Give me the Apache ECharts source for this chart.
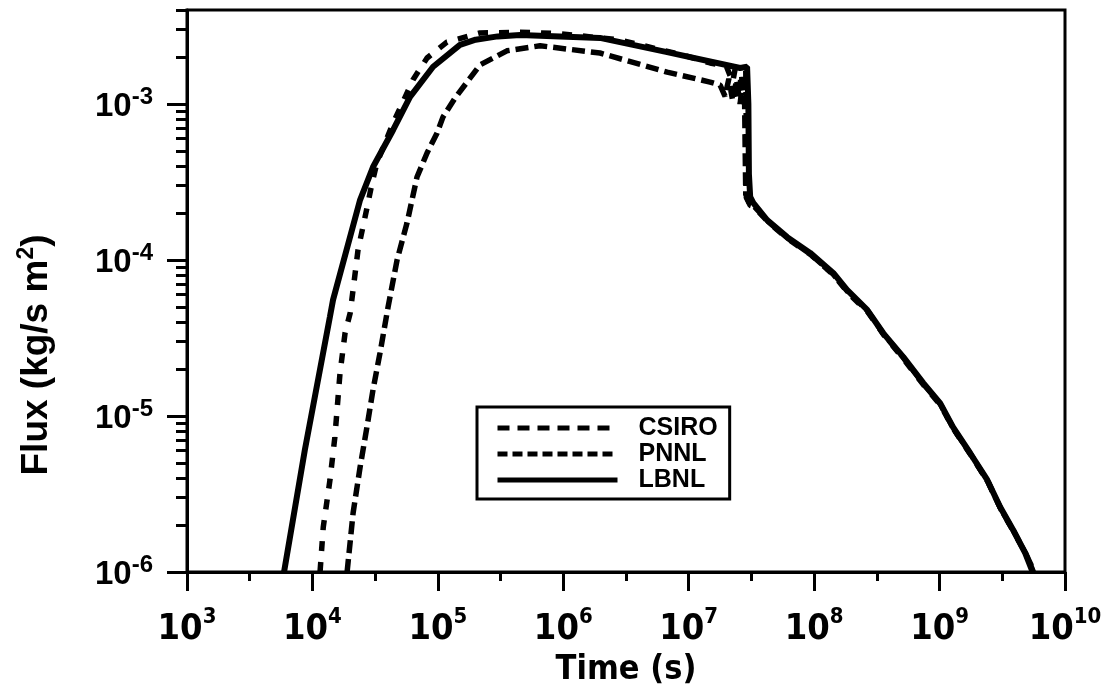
<!DOCTYPE html>
<html><head><meta charset="utf-8">
<script src="https://cdn.jsdelivr.net/npm/echarts@6/dist/echarts.min.js"></script>
<style>html,body{margin:0;padding:0;background:#fff}#c{width:1104px;height:686px}</style>
</head><body><div id="c"></div>
<script>
const FONT = '"Liberation Sans", Arial, Helvetica, sans-serif';
const NARROW = '"Liberation Sans Narrow", "Arial Narrow", "DejaVu Sans Condensed", "Liberation Sans", sans-serif';

const seriesNames = ['CSIRO', 'PNNL', 'LBNL'];
const xMin = 1e3, xMax = 1e10;
const yMin = 1e-6, yMax = 4e-3;
const xMinorTicksLog = [3.5, 4.5, 5.5, 6.5, 7.5, 8.5, 9.5];
const yMantissas = [2, 3, 4, 5, 6, 7, 8, 9];
const yDecades = [-6, -5, -4, -3];

const csiroTime = [1.15e4, 1.22e4, 1.38e4, 1.51e4, 1.66e4, 1.82e4, 2.0e4, 2.31e4, 2.72e4, 2.99e4, 3.27e4, 4.4e4, 5.27e4, 6.34e4, 8.2e4, 1.18e5, 2.17e5, 4.52e5, 9.42e5, 2.84e6, 4.09e6, 9.02e6, 1.48e7,
  2.0e7, 2.24e7, 2.34e7, 2.51e7, 2.63e7, 2.75e7, 2.85e7, 2.88e7, 2.85e7, 2.88e7, 3.09e7,
  3.3e7, 4.3e7, 6.2e7, 9.4e7, 1.43e8, 1.85e8, 2.7e8, 3.6e8, 5.2e8, 7.5e8, 1.02e9, 1.3e9, 1.78e9, 2.45e9, 3.1e9, 3.95e9, 4.95e9, 5.7e9];
const csiroFlux = [1.0e-6, 1.94e-6, 3.89e-6, 7.33e-6, 1.89e-5, 3.4e-5, 4.57e-5, 1.16e-4, 2.15e-4, 3.12e-4, 4.19e-4, 7.55e-4, 1.03e-3, 1.43e-3, 1.97e-3, 2.49e-3, 2.85e-3, 2.88e-3, 2.82e-3, 2.57e-3, 2.39e-3, 2.06e-3, 1.83e-3,
  1.74e-3, 1.38e-3, 1.66e-3, 1.12e-3, 1.58e-3, 1.0e-3, 1.66e-3, 6.3e-4, 3.16e-4, 2.51e-4, 2.24e-4,
  2.2e-4, 1.75e-4, 1.36e-4, 1.08e-4, 8.0e-5, 6.2e-5, 4.6e-5, 3.3e-5, 2.3e-5, 1.57e-5, 1.17e-5, 8.2e-6, 5.6e-6, 3.75e-6, 2.5e-6, 1.78e-6, 1.27e-6, 1.0e-6];

const pnnlTime = [1.89e4, 2.11e4, 2.4e4, 2.72e4, 3.04e4, 3.46e4, 4.01e4, 4.73e4, 5.68e4, 6.82e4, 8.2e4, 9.86e4, 1.1e5, 1.37e5, 2.17e5, 3.55e5, 6.53e5, 1.96e6, 6.73e6, 1.48e7,
  1.78e7, 1.95e7, 2.09e7, 2.24e7, 2.4e7, 2.57e7, 2.69e7, 2.79e7, 2.82e7, 2.85e7, 3.02e7,
  3.25e7, 4.25e7, 6.15e7, 9.35e7, 1.42e8, 1.84e8, 2.68e8, 3.58e8, 5.17e8, 7.45e8, 1.015e9, 1.29e9, 1.77e9, 2.42e9, 3.07e9, 3.9e9, 4.9e9, 5.6e9];
const pnnlFlux = [1.0e-6, 2.39e-6, 4.71e-6, 8.49e-6, 1.47e-5, 2.54e-5, 5.0e-5, 1.0e-4, 1.73e-4, 3.4e-4, 4.85e-4, 6.52e-4, 8.26e-4, 1.09e-3, 1.78e-3, 2.19e-3, 2.36e-3, 2.12e-3, 1.6e-3, 1.38e-3,
  1.32e-3, 1.12e-3, 1.45e-3, 1.05e-3, 1.41e-3, 1.0e-3, 1.38e-3, 1.05e-3, 5.0e-4, 2.63e-4, 2.34e-4,
  2.25e-4, 1.78e-4, 1.38e-4, 1.09e-4, 8.1e-5, 6.3e-5, 4.7e-5, 3.35e-5, 2.35e-5, 1.6e-5, 1.19e-5, 8.3e-6, 5.7e-6, 3.8e-6, 2.55e-6, 1.82e-6, 1.3e-6, 1.0e-6];

const lbnlTime = [5.94e3, 8.7e3, 1.38e4, 1.46e4, 2.4e4, 3.04e4, 4.4e4, 6.0e4, 9.16e4, 1.5e5, 2.0e5, 3.0e5, 4.52e5, 1.96e6, 6.73e6, 2.57e7, 2.92e7, 2.99e7, 3.02e7, 3.09e7,
  3.27e7, 4.22e7, 6.1e7, 9.29e7, 1.42e8, 1.83e8, 2.65e8, 3.55e8, 5.13e8, 7.4e8, 1.01e9, 1.28e9, 1.75e9, 2.4e9, 3.04e9, 3.86e9, 4.82e9, 5.47e9];
const lbnlFlux = [1.0e-6, 6.05e-6, 4.34e-5, 5.55e-5, 2.43e-4, 3.94e-4, 6.81e-4, 1.11e-3, 1.73e-3, 2.39e-3, 2.58e-3, 2.71e-3, 2.77e-3, 2.65e-3, 2.15e-3, 1.7e-3, 1.73e-3, 1.0e-3, 3.55e-4, 2.54e-4,
  2.32e-4, 1.8e-4, 1.4e-4, 1.11e-4, 8.26e-5, 6.43e-5, 4.78e-5, 3.4e-5, 2.39e-5, 1.63e-5, 1.21e-5, 8.49e-6, 5.79e-6, 3.89e-6, 2.61e-6, 1.86e-6, 1.32e-6, 1.02e-6];

function pairs(t, f) { return t.map((v, i) => [v, f[i]]); }
function expOf(v) { const e = Math.log10(v); return Math.abs(e - Math.round(e)) < 1e-6 ? Math.round(e) : null; }

const yLogMax = Math.log10(yMax) + 1e-9;
const yMinorTicksLog = [];
yDecades.forEach(d => yMantissas.forEach(m => { const v = d + Math.log10(m); if (v <= yLogMax) yMinorTicksLog.push(Math.min(v, yLogMax)); }));

const chart = echarts.init(document.getElementById('c'), null, {renderer: 'canvas'});
const lineBase = {type: 'line', symbol: 'none', showSymbol: false, smooth: false, animation: false};
chart.setOption({
  backgroundColor: '#fff',
  animation: false,
  grid: {left: 187, right: 39, top: 10, bottom: 114, containLabel: false, outerBoundsMode: 'none',
    show: true, borderColor: '#000', borderWidth: 3, backgroundColor: 'transparent'},
  legend: {
    orient: 'vertical', left: 477, top: 407,
    itemWidth: 120, itemHeight: 14, itemGap: 0,
    padding: [8, 12, 6, 18],
    backgroundColor: '#fff', borderColor: '#000', borderWidth: 3,
    textStyle: {fontFamily: FONT, fontWeight: 'bold', fontSize: 25, lineHeight: 26, color: '#000', padding: [0, 0, 0, 16]},
    itemStyle: {opacity: 0},
    lineStyle: {width: 5},
    data: [
      {name: 'CSIRO', lineStyle: {width: 5, type: [12, 8]}, itemStyle: {opacity: 0}},
      {name: 'PNNL', lineStyle: {width: 5, type: [10, 5]}, itemStyle: {opacity: 0}},
      {name: 'LBNL', lineStyle: {width: 5, type: 'solid'}, itemStyle: {opacity: 0}}
    ],
    selectedMode: false
  },
  xAxis: [
    {type: 'log', logBase: 10, min: xMin, max: xMax, position: 'bottom',
      axisLine: {show: true, lineStyle: {color: '#000', width: 3}},
      axisTick: {show: true, length: 19, lineStyle: {color: '#000', width: 3}},
      splitLine: {show: false}, minorTick: {show: false},
      axisLabel: {margin: 34, color: '#000',
        formatter: v => { const e = expOf(v); return e === null ? '' : '{a|10}{b|' + e + '}'; },
        rich: {
          a: {fontFamily: NARROW, fontWeight: 'bold', fontSize: 36, lineHeight: 42, verticalAlign: 'bottom', color: '#000'},
          b: {fontFamily: NARROW, fontWeight: 'bold', fontSize: 22, lineHeight: 20, verticalAlign: 'top', color: '#000'}
        }},
      name: 'Time (s)', nameLocation: 'middle', nameGap: 76,
      nameTextStyle: {fontFamily: NARROW, fontWeight: 'bold', fontSize: 34, color: '#000'}
    },
    {type: 'value', min: 3, max: 10, position: 'bottom', offset: 0,
      axisLine: {show: false}, axisLabel: {show: false}, splitLine: {show: false},
      axisTick: {show: true, length: 9, customValues: xMinorTicksLog, lineStyle: {color: '#000', width: 3}}}
  ],
  yAxis: [
    {type: 'log', logBase: 10, min: yMin, max: yMax, position: 'left',
      axisLine: {show: true, lineStyle: {color: '#000', width: 3}},
      axisTick: {show: false}, splitLine: {show: false}, minorTick: {show: false},
      axisLabel: {margin: 34, color: '#000',
        formatter: v => { const e = expOf(v); return e === null ? '' : '{a|10}{b|' + e + '}'; },
        rich: {
          a: {fontFamily: FONT, fontWeight: 'bold', fontSize: 33, lineHeight: 38, verticalAlign: 'bottom', color: '#000'},
          b: {fontFamily: FONT, fontWeight: 'bold', fontSize: 24, lineHeight: 28, verticalAlign: 'top', color: '#000'}
        }},
      name: 'Flux (kg/s m{s|2})', nameLocation: 'middle', nameGap: 128,
      nameTextStyle: {fontFamily: FONT, fontWeight: 'bold', fontSize: 37, color: '#000', padding: [0, 128, 0, 0],
        rich: {s: {fontFamily: FONT, fontWeight: 'bold', fontSize: 23, verticalAlign: 'top', lineHeight: 44, color: '#000'}}}
    },
    {type: 'value', min: -6, max: yLogMax, position: 'left', offset: 0,
      axisLine: {show: false}, axisLabel: {show: false}, splitLine: {show: false},
      axisTick: {show: true, length: 11, customValues: yMinorTicksLog, lineStyle: {color: '#000', width: 3}}},
    {type: 'value', min: -6, max: yLogMax, position: 'left', offset: 0,
      axisLine: {show: false}, axisLabel: {show: false}, splitLine: {show: false},
      axisTick: {show: true, length: 20, customValues: yDecades, lineStyle: {color: '#000', width: 3}}}
  ],
  series: [
    Object.assign({}, lineBase, {name: 'CSIRO', data: pairs(csiroTime, csiroFlux),
      lineStyle: {color: '#000', width: 5.5, type: [10, 11]}, itemStyle: {color: '#000'}}),
    Object.assign({}, lineBase, {name: 'PNNL', data: pairs(pnnlTime, pnnlFlux),
      lineStyle: {color: '#000', width: 5.5, type: [13, 6]}, itemStyle: {color: '#000'}}),
    Object.assign({}, lineBase, {name: 'LBNL', data: pairs(lbnlTime, lbnlFlux),
      lineStyle: {color: '#000', width: 6, type: 'solid'}, itemStyle: {color: '#000'}})
  ]
});
</script></body></html>
